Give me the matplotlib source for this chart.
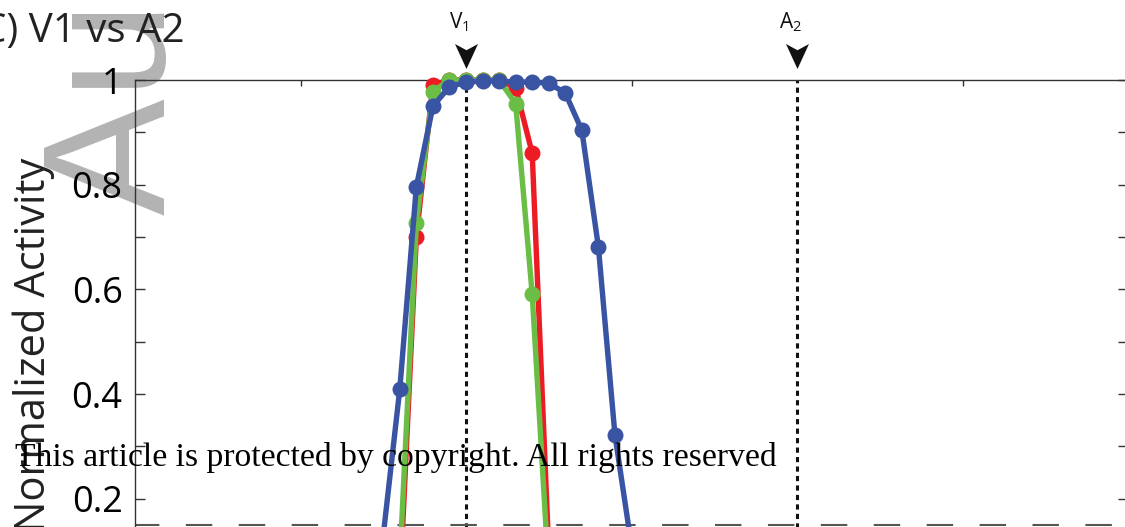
import numpy as np
import matplotlib.pyplot as plt
from matplotlib.path import Path

plt.rcParams['font.family'] = ['Open Sans', 'DejaVu Sans']
plt.rcParams['mathtext.default'] = 'regular'

W, H = 1125, 527

# tuning curves, one point every 0.05
x_red = [1.30, 1.35, 1.40, 1.45, 1.50, 1.55, 1.60, 1.65, 1.70, 1.75]
y_red = [0.03, 0.70, 0.99, 1.00, 1.00, 1.00, 1.00, 0.985, 0.86, 0.10]

x_green = [1.30, 1.35, 1.40, 1.45, 1.50, 1.55, 1.60, 1.65, 1.70, 1.75]
y_green = [0.08, 0.726, 0.978, 1.00, 1.00, 1.00, 1.00, 0.955, 0.591, 0.055]

x_blue = [1.25, 1.30, 1.35, 1.40, 1.45, 1.50, 1.55, 1.60, 1.65, 1.70,
          1.75, 1.80, 1.85, 1.90, 1.95, 2.00]
y_blue = [0.13, 0.41, 0.796, 0.95, 0.987, 0.996, 0.998, 0.998, 0.996, 0.996,
          0.994, 0.975, 0.904, 0.681, 0.322, 0.11]

stim_x = [1.5, 2.5]
stim_names = [r'$V_1$', r'$A_2$']
threshold = 0.15

yticks = [0.2, 0.4, 0.6, 0.8, 1.0]
ytick_labels = ['0.2', '0.4', '0.6', '0.8', '1']
yminor = [0.1, 0.3, 0.5, 0.7, 0.9]
xticks = [1, 2, 3]


def fx(px):
    return px / W


def fy(py):
    return 1 - py / H


fig = plt.figure(figsize=(W / 100, H / 100), dpi=100)
fig.patch.set_facecolor('white')

# axes runs past the bottom of the figure
ax = fig.add_axes([fx(135), fy(603.5), fx(1128) - fx(135), fy(80) - fy(603.5)])
ax.set_facecolor('none')
ax.set_xlim(0.5, 3.5)
ax.set_ylim(0, 1)

for xs in stim_x:
    ax.axvline(xs, color='#111111', lw=2.2, ls=(0, (1.7, 1.4)), zorder=2)

ax.axhline(threshold, color='#555555', lw=1.5, ls=(1, (12.7, 12.7)), zorder=2)

kw = dict(lw=3.9, marker='o', ms=11.5, mew=0, clip_on=False, zorder=3)
ax.plot(x_red, y_red, color='#ED1C24', **kw)
ax.plot(x_green, y_green, color='#6BBE45', **kw)
ax.plot(x_blue, y_blue, color='#3A54A4', **kw)

ax.set_yticks(yticks)
ax.set_yticklabels(ytick_labels)
ax.set_yticks(yminor, minor=True)
ax.set_xticks(xticks)
ax.set_xticklabels([])
ax.tick_params(axis='y', which='both', direction='in', length=7.2, width=1,
               color='#333333', left=True, right=True, labelsize=26, pad=9)
ax.tick_params(axis='x', which='both', direction='in', length=4.3, width=1,
               color='#333333', top=True, bottom=True)
for s in ax.spines.values():
    s.set_color('#333333')
    s.set_linewidth(1)

# stimulus arrows above the plot
head = Path([(0, -1), (-0.92, 1), (0, 0.5), (0.92, 1), (0, -1)],
            [Path.MOVETO, Path.LINETO, Path.LINETO, Path.LINETO, Path.CLOSEPOLY])
y_head = 1 + (80 - 55.5) / 523.5
for xs, name in zip(stim_x, stim_names):
    ax.plot([xs], [y_head], marker=head, ms=18, color='#111111', mew=0,
            clip_on=False, zorder=4)
    ax.text(xs - 0.02, 1 + (80 - 28) / 523.5, name, fontsize=15, ha='center',
            va='baseline', color='#111111', clip_on=False)

fig.text(fx(185), fy(42), 'C) V1 vs A2', fontsize=29, ha='right',
         va='baseline', color='#222222')

fig.text(fx(45), fy(158), 'Normalized Activity', fontsize=30, rotation=90,
         rotation_mode='anchor', ha='right', va='baseline', color='#222222')

fig.text(fx(165), fy(215), 'Author Manuscript', fontsize=126,
         family='Liberation Sans', rotation=90, rotation_mode='anchor',
         ha='left', va='baseline', color='#b3b3b3', zorder=-5)

fig.text(fx(15), fy(466), 'This article is protected by copyright. All rights reserved',
         fontsize=24.2, family='Liberation Serif', ha='left', va='baseline',
         color='black', zorder=10)

fig.savefig('out.png', dpi=100, facecolor='white')
